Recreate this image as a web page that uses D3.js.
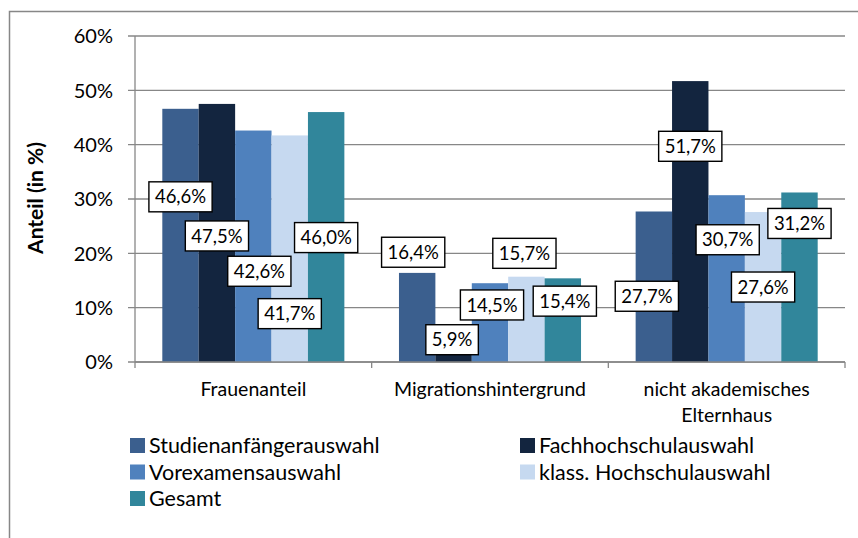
<!DOCTYPE html>
<html>
<head>
<meta charset="utf-8">
<script src="https://cdn.jsdelivr.net/npm/d3@7"></script>
<style>
  body { margin: 0; background: #fff; }
  text { font-family: Lato, 'Open Sans', sans-serif; fill: #000; }
</style>
</head>
<body>
<svg id="chart" width="858" height="538"></svg>
<script>
// Data
const categories = ['Frauenanteil', 'Migrationshintergrund', 'nicht akademisches Elternhaus']
const seriesNames = ['Studienanfängerauswahl', 'Fachhochschulauswahl', 'Vorexamensauswahl', 'klass. Hochschulauswahl', 'Gesamt']
const seriesColours = ['#3b5f8e', '#13253f', '#4f81bd', '#c6d9f0', '#31869b']
const studienanfaenger = [46.6, 16.4, 27.7]
const fachhochschule = [47.5, 5.9, 51.7]
const vorexamen = [42.6, 14.5, 30.7]
const klassHochschule = [41.7, 15.7, 27.6]
const gesamt = [46.0, 15.4, 31.2]
const yTicks = [0, 10, 20, 30, 40, 50, 60]

// where the (hand-placed) value labels sit: centre in % on the y scale, shift in px
const labelLevel = [
	[30.4, 23.2, 16.7, 8.9, 22.9],
	[20.2, 4.1, 10.5, 20.0, 11.2],
	[12.1, 39.7, 22.5, 13.8, 25.5],
]
const labelShift = [
	[0, 0, 6, 0, 0],
	[-4, -1.5, 2, -2, 2],
	[-7, 0, 1, 0, 0],
]

const allSeries = [studienanfaenger, fachhochschule, vorexamen, klassHochschule, gesamt]

var svg = d3.select('#chart')
var grey = '#878787'

// outer frame (only top and left edge fall inside the picture)
svg.append('rect')
	.attr('x', 9.5).attr('y', 11.5)
	.attr('width', 900).attr('height', 600)
	.attr('fill', 'none').attr('stroke', grey).attr('stroke-width', 1.5)

var plotLeft = 135, plotRight = 845, plotTop = 36, plotBottom = 362

var x = d3.scaleBand().domain(categories).range([plotLeft, plotRight]).padding(0)
var xInner = d3.scaleBand().domain(seriesNames).range([0, x.bandwidth()]).paddingInner(0).paddingOuter(0.75)
var y = d3.scaleLinear().domain([0, 60]).range([plotBottom, plotTop])

// gridlines + tick marks
svg.append('g')
	.selectAll('line')
	.data(yTicks)
	.join('line')
	.attr('x1', plotLeft - 7).attr('x2', plotRight)
	.attr('y1', (d) => y(d)).attr('y2', (d) => y(d))
	.attr('stroke', grey).attr('stroke-width', 1.3)

// y axis line
svg.append('line')
	.attr('x1', plotLeft).attr('x2', plotLeft).attr('y1', plotTop).attr('y2', plotBottom)
	.attr('stroke', grey).attr('stroke-width', 1.3)

// y tick labels
svg.append('g')
	.selectAll('text')
	.data(yTicks)
	.join('text')
	.attr('x', 113)
	.attr('y', (d) => y(d))
	.attr('dy', '0.36em')
	.attr('text-anchor', 'end')
	.style('font-size', '20px')
	.text((d) => d + '%')

// y title
svg.append('text')
	.attr('transform', 'translate(43,198) rotate(-90)')
	.attr('text-anchor', 'middle')
	.style('font-size', '21px')
	.style('font-weight', 'bold')
	.text('Anteil (in %)')

// bars
var groups = svg.append('g')
	.selectAll('g')
	.data(categories)
	.join('g')
	.attr('transform', (d) => 'translate(' + x(d) + ',0)')

groups.selectAll('rect')
	.data((c, ci) => seriesNames.map((s, si) => ({ s: s, si: si, v: allSeries[si][ci] })))
	.join('rect')
	.attr('x', (d) => xInner(d.s))
	.attr('width', xInner.bandwidth())
	.attr('y', (d) => y(d.v))
	.attr('height', (d) => y(0) - y(d.v))
	.attr('fill', (d) => seriesColours[d.si])

// x axis line + ticks
svg.append('line')
	.attr('x1', plotLeft).attr('x2', plotRight).attr('y1', plotBottom).attr('y2', plotBottom)
	.attr('stroke', grey).attr('stroke-width', 1.5)
svg.append('g')
	.selectAll('line')
	.data(categories.map((c) => x(c)).concat([plotRight]))
	.join('line')
	.attr('x1', (d) => d).attr('x2', (d) => d)
	.attr('y1', plotBottom).attr('y2', plotBottom + 6)
	.attr('stroke', grey).attr('stroke-width', 1.3)

// category labels (Excel wraps the long one)
var catLines = [['Frauenanteil'], ['Migrationshintergrund'], ['nicht akademisches', 'Elternhaus']]
svg.append('g')
	.selectAll('text')
	.data(categories)
	.join('text')
	.attr('text-anchor', 'middle')
	.style('font-size', '19.5px')
	.each(function (c, i) {
		d3.select(this)
			.selectAll('tspan')
			.data(catLines[i])
			.join('tspan')
			.attr('x', x(c) + x.bandwidth() / 2)
			.attr('y', (t, j) => 396 + j * 26)
			.text((t) => t)
	})

// value labels
var labels = groups.selectAll('g.lbl')
	.data((c, ci) => seriesNames.map((s, si) => ({
		s: s,
		v: allSeries[si][ci],
		lv: labelLevel[ci][si],
		dx: labelShift[ci][si],
	})))
	.join('g')
	.attr('class', 'lbl')
	.attr('transform', (d) => 'translate(' + (xInner(d.s) + xInner.bandwidth() / 2 + d.dx) + ',' + y(d.lv) + ')')

labels.append('text')
	.attr('text-anchor', 'middle')
	.attr('dy', '0.36em')
	.style('font-size', '18.5px')
	.text((d) => d.v.toFixed(1).replace('.', ',') + '%')

labels.insert('rect', 'text')
	.each(function () {
		var w = this.parentNode.querySelector('text').getComputedTextLength()
		d3.select(this)
			.attr('x', -w / 2 - 6).attr('width', w + 12)
			.attr('y', -15).attr('height', 30)
	})
	.attr('fill', '#fff')
	.attr('stroke', '#000')
	.attr('stroke-width', 1.4)

// legend: two columns, filled row by row
var legend = svg.append('g')
	.selectAll('g')
	.data(seriesNames)
	.join('g')
	.attr('transform', (d, i) => 'translate(' + (i % 2 === 0 ? 130 : 520) + ',' + (438 + Math.floor(i / 2) * 26.5) + ')')

legend.append('rect')
	.attr('width', 15).attr('height', 15)
	.attr('fill', (d, i) => seriesColours[i])

legend.append('text')
	.attr('x', 19)
	.attr('y', 7.5)
	.attr('dy', '0.36em')
	.style('font-size', '21.5px')
	.text((d) => d)
</script>
</body>
</html>
